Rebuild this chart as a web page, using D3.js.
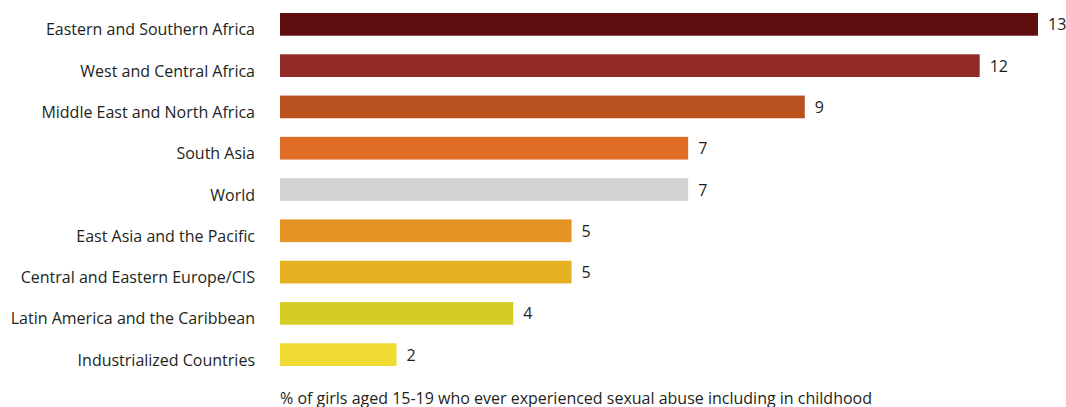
<!DOCTYPE html>
<meta charset="utf-8">
<head>
	<title>Sexual abuse of girls by region</title>
</head>
<style>
body {
	margin: 0;
	background: #fff;
}
text {
	font-family: "Open Sans", sans-serif;
	font-size: 16px;
	fill: #231f20;
}
</style>
<body>
<svg class="chart" width="1066" height="407"></svg>

<script src="https://cdnjs.cloudflare.com/ajax/libs/d3/7.8.5/d3.min.js"></script>
<script>

var regions = [
	'Eastern and Southern Africa',
	'West and Central Africa',
	'Middle East and North Africa',
	'South Asia',
	'World',
	'East Asia and the Pacific',
	'Central and Eastern Europe/CIS',
	'Latin America and the Caribbean',
	'Industrialized Countries'
];
var values = [13, 12, 9, 7, 7, 5, 5, 4, 2];
var colors = ['#610e11', '#922b28', '#ba521f', '#e06d26', '#d1d2d4', '#e69326', '#e5b021', '#d5cc25', '#efdb31'];
var axisTitle = '% of girls aged 15-19 who ever experienced sexual abuse including in childhood';

var svg = d3.select('.chart');

var x = d3.scaleLinear()
	.domain([0, 13])
	.range([280, 1038]);

var y = d3.scaleBand()
	.domain(regions)
	.range([13, 366])
	.paddingInner(0.45)
	.paddingOuter(0);

var rows = svg.selectAll('.row')
	.data(regions)
	.enter()
	.append('g')
	.classed('row', true);

rows.append('rect')
	.attr('x', x(0))
	.attr('y', function(d) { return y(d); })
	.attr('width', function(d, i) { return x(values[i]) - x(0); })
	.attr('height', y.bandwidth())
	.style('fill', function(d, i) { return colors[i]; });

// category names sit a little lower than the bar centre in the original
rows.append('text')
	.attr('x', 255)
	.attr('y', function(d) { return y(d) + y.bandwidth() / 2 + 11; })
	.attr('text-anchor', 'end')
	.text(function(d) { return d; });

rows.append('text')
	.attr('x', function(d, i) { return x(values[i]) + 10; })
	.attr('y', function(d) { return y(d) + y.bandwidth() / 2 + 6; })
	.text(function(d, i) { return values[i]; });

svg.append('text')
	.attr('x', 280)
	.attr('y', 404)
	.text(axisTitle);

</script>
</body>
</html>
